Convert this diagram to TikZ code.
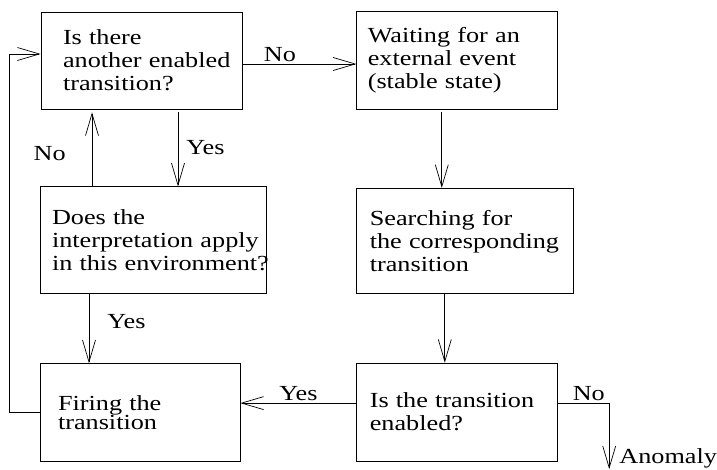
\documentclass[tikz,border=0pt]{standalone}
\usepackage{fontspec}
\setmainfont{Liberation Serif}[FakeStretch=1.22]
\usepackage{tikz}
\usetikzlibrary{arrows.meta, positioning, calc}
\newcommand{\diafont}{\fontsize{21.5pt}{23pt}\selectfont}

\begin{document}
\begin{tikzpicture}[
    box/.style={rectangle, draw, line width=0.8pt, align=left, inner xsep=0pt, inner ysep=0pt, font=\diafont},
    lbl/.style={font=\diafont, inner sep=2pt},
    arrow/.style={-{Straight Barb[length=22pt, width=13pt]}, line width=0.7pt}
]
\useasboundingbox (0,0) rectangle (717pt,-469pt);

\node[box, minimum width=201pt, minimum height=97pt, text width=157pt] (ask) at (141.5pt,-60.5pt) {Is there\\\mbox{another enabled}\\transition?};
\node[box, minimum width=201pt, minimum height=98pt, text width=179pt, right=114pt of ask] (wait) {Waiting for an\\\mbox{external event}\\(stable state)};
\node[box, minimum width=226pt, minimum height=107pt, text width=202pt, below=77pt of ask, xshift=11.5pt] (interp) {Does the\\\mbox{interpretation apply}\\\mbox{in this environment?}};
\node[box, minimum width=200pt, minimum height=98pt, text width=164pt, below=69pt of interp, xshift=-13pt, font=\fontsize{21.5pt}{17pt}\selectfont] (fire) {Firing the\\transition};
\node[box, minimum width=217pt, minimum height=105pt, text width=191pt, below=78pt of wait, xshift=8pt] (search) {Searching for\\\mbox{the corresponding}\\transition};
\node[box, minimum width=201pt, minimum height=98pt, text width=175pt, below=69pt of search, xshift=-8pt] (enabled) {\mbox{Is the transition}\\enabled?};
\coordinate (anom) at ([xshift=51pt, yshift=-57pt]enabled.east);
\node[lbl, anchor=base west, inner sep=0pt] (anomaly) at ([xshift=10pt, yshift=6pt]anom) {Anomaly};

\draw[arrow] ([yshift=-3.5pt]ask.east) -- node[lbl, above, pos=0.33] {No} ([yshift=-3.5pt]ask.east -| wait.west);
\draw[arrow, shorten <=3pt] ([xshift=36.5pt]ask.south) -- node[lbl, right=6pt] {Yes} ([xshift=36.5pt]ask.south |- interp.north);
\draw[arrow, shorten >=3pt] ([xshift=-61pt]interp.north) -- node[lbl, left=24pt, pos=0.42] {No} ([xshift=-61pt]interp.north |- ask.south);
\draw[arrow] ([xshift=-64pt]interp.south) -- node[lbl, right=16pt, pos=0.4] {Yes} ([xshift=-64pt]interp.south |- fire.north);
\draw[arrow, shorten <=2pt] ([xshift=-15.5pt]wait.south) -- ([xshift=-15.5pt]wait.south |- search.north);
\draw[arrow] ([xshift=-20.5pt]search.south) -- ([xshift=-20.5pt]search.south |- enabled.north);
\draw[arrow] ([yshift=9pt]enabled.west) -- node[lbl, above] {Yes} ([yshift=9pt]enabled.west -| fire.east);
\draw[arrow] ([yshift=9pt]enabled.east) -| node[lbl, above, pos=0.3] {No} (anom);
\draw[arrow] (fire.west) -- ++(-30pt,0) |- ([yshift=6.5pt]ask.west);

\end{tikzpicture}
\end{document}
